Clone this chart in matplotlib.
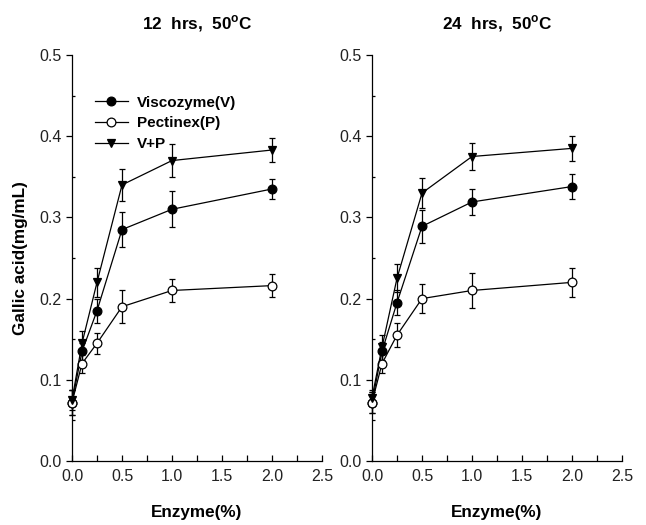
import matplotlib
matplotlib.use("Agg")
from matplotlib import pyplot as plt
from matplotlib.ticker import MultipleLocator, FormatStrFormatter
from matplotlib.lines import Line2D
import numpy as np

plt.rcParams["font.family"] = ["Liberation Sans", "DejaVu Sans"]
plt.rcParams["mathtext.fontset"] = "custom"
plt.rcParams["mathtext.rm"] = "Liberation Sans"
plt.rcParams["mathtext.bf"] = "Liberation Sans:bold"

enzyme = [0.0, 0.1, 0.25, 0.5, 1.0, 2.0]

# 12 hrs, 50C
v_12 = [0.072, 0.135, 0.185, 0.285, 0.310, 0.335]
v_12_err = [0.015, 0.010, 0.015, 0.022, 0.022, 0.012]
p_12 = [0.072, 0.120, 0.145, 0.190, 0.210, 0.216]
p_12_err = [0.015, 0.012, 0.013, 0.020, 0.014, 0.014]
vp_12 = [0.075, 0.145, 0.220, 0.340, 0.370, 0.383]
vp_12_err = [0.012, 0.015, 0.018, 0.020, 0.020, 0.015]

# 24 hrs, 50C
v_24 = [0.072, 0.135, 0.195, 0.289, 0.319, 0.338]
v_24_err = [0.013, 0.012, 0.015, 0.020, 0.016, 0.015]
p_24 = [0.072, 0.120, 0.155, 0.200, 0.210, 0.220]
p_24_err = [0.013, 0.012, 0.015, 0.018, 0.022, 0.018]
vp_24 = [0.078, 0.140, 0.225, 0.330, 0.375, 0.385]
vp_24_err = [0.010, 0.015, 0.017, 0.018, 0.017, 0.015]

titles = ["12  hrs,  50$^\\mathregular{o}$C", "24  hrs,  50$^\\mathregular{o}$C"]
panels = [
    [(v_12, v_12_err), (p_12, p_12_err), (vp_12, vp_12_err)],
    [(v_24, v_24_err), (p_24, p_24_err), (vp_24, vp_24_err)],
]
series_names = ["Viscozyme(V)", "Pectinex(P)", "V+P"]
series_style = [
    dict(marker="o", mfc="black"),
    dict(marker="o", mfc="white"),
    dict(marker="v", mfc="black"),
]

fig = plt.figure(figsize=(6.46, 5.25), dpi=100)
lefts = [72 / 646, 372 / 646]

for k in range(2):
    ax = fig.add_axes([lefts[k], 64 / 525, 250 / 646, 406 / 525])
    for (vals, errs), st in zip(panels[k], series_style):
        ax.errorbar(
            enzyme, vals, yerr=errs,
            color="black", linewidth=0.9,
            marker=st["marker"], markersize=6.3,
            markerfacecolor=st["mfc"], markeredgecolor="black", markeredgewidth=0.9,
            ecolor="black", elinewidth=0.9, capsize=2.5, capthick=0.9,
            clip_on=False, zorder=3,
        )
    ax.set_xlim(0, 2.5)
    ax.set_ylim(0, 0.5)
    ax.xaxis.set_major_locator(MultipleLocator(0.5))
    ax.xaxis.set_minor_locator(MultipleLocator(0.25))
    ax.yaxis.set_major_locator(MultipleLocator(0.1))
    ax.yaxis.set_minor_locator(MultipleLocator(0.05))
    ax.xaxis.set_major_formatter(FormatStrFormatter("%.1f"))
    ax.yaxis.set_major_formatter(FormatStrFormatter("%.1f"))
    ax.spines["top"].set_visible(False)
    ax.spines["right"].set_visible(False)
    for s in ["left", "bottom"]:
        ax.spines[s].set_linewidth(0.9)
    ax.tick_params(axis="x", which="both", direction="in", length=4, width=0.9,
                   labelsize=11.5, pad=6, labelcolor="#222222")
    ax.tick_params(axis="y", which="major", direction="out", length=4, width=0.9,
                   labelsize=11.5, labelcolor="#222222")
    ax.tick_params(axis="y", which="minor", direction="in", length=2, width=0.9)
    ax.set_xlabel("Enzyme(%)", fontsize=12.3, fontweight="bold", labelpad=15)
    ax.set_title(titles[k], fontsize=12.3, fontweight="bold", pad=19)
    if k == 0:
        ax.set_ylabel("Gallic acid(mg/mL)", fontsize=12.3, fontweight="bold", labelpad=8)
        handles = [
            Line2D([], [], color="black", linewidth=0.9, marker=st["marker"], markersize=6.3,
                   markerfacecolor=st["mfc"], markeredgecolor="black", markeredgewidth=0.9)
            for st in series_style
        ]
        ax.legend(handles, series_names, loc="upper left", bbox_to_anchor=(0.09, 0.90),
                  frameon=False, prop=dict(size=11, weight="bold"), handlelength=2.2,
                  handletextpad=0.6, labelspacing=0.45, borderpad=0, borderaxespad=0)

fig.savefig("out.png", dpi=100)
